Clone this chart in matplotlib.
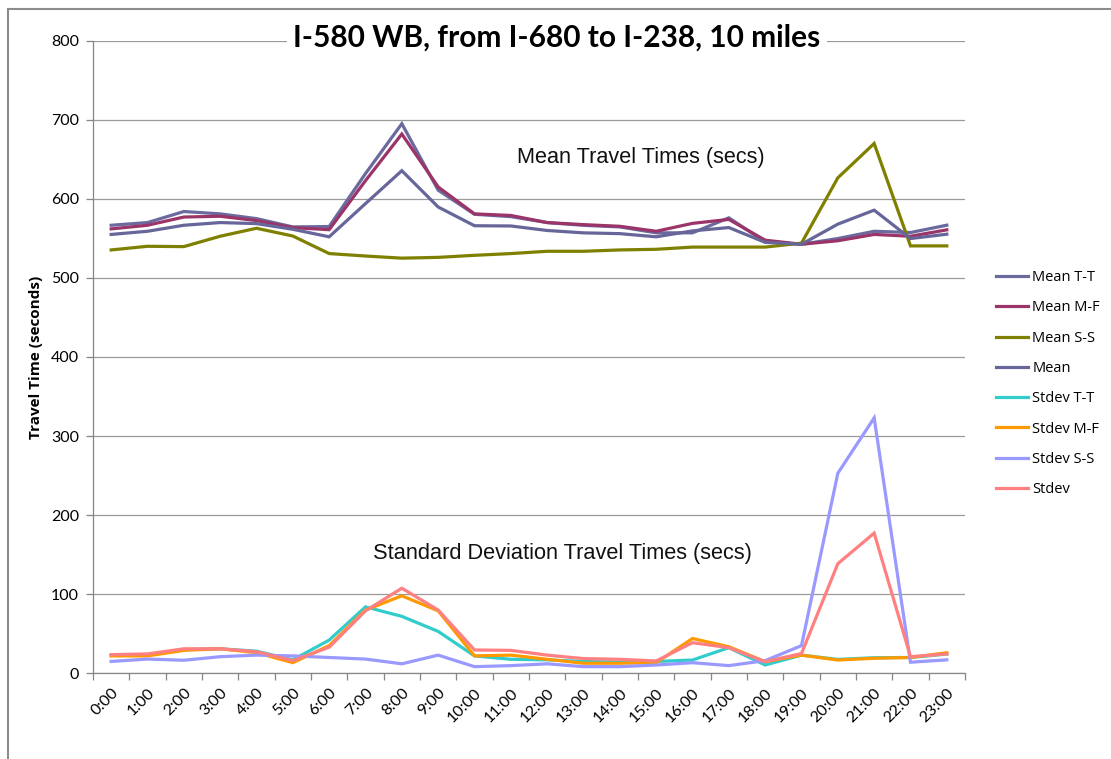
import matplotlib
matplotlib.use("Agg")
import matplotlib.pyplot as plt
from matplotlib.lines import Line2D
import numpy as np

hours = ["0:00", "1:00", "2:00", "3:00", "4:00", "5:00", "6:00", "7:00", "8:00", "9:00",
         "10:00", "11:00", "12:00", "13:00", "14:00", "15:00", "16:00", "17:00", "18:00",
         "19:00", "20:00", "21:00", "22:00", "23:00"]

mean_tt = [566.6, 570, 584, 581, 575, 564.5, 565, 632, 695, 611, 580.5, 577.5, 570, 566.5,
           564.5, 557, 557, 576, 545.6, 542.6, 549.8, 559, 557.4, 566.7]
mean_mf = [562, 566.6, 577, 578, 572.5, 563.6, 561, 623, 682, 615, 581, 579, 570, 567.4,
           565.3, 559, 569, 574, 547.7, 542.6, 547, 555, 552.7, 560.8]
mean_ss = [535.4, 540, 539.6, 552.7, 562.8, 553, 530.8, 527.7, 525, 526, 528.6, 530.8, 533.7,
           533.7, 535.4, 536.2, 539, 539, 539, 544, 626.6, 670, 540.5, 540.5]
mean_all = [555, 559, 566.6, 570, 568.7, 561.5, 552, 594, 635.6, 589.7, 566, 565.7, 560, 557,
            556, 552, 559.5, 563.7, 545, 542.6, 568, 585.7, 549.8, 555.3]
std_tt = [23, 23, 30, 31, 28, 17, 42, 84, 72, 53, 22, 17.7, 17, 15, 14, 15, 16.8, 32.4, 10.5,
          23, 17.6, 19.7, 20, 24.4]
std_mf = [22, 22, 29, 31, 26, 13.5, 35, 80, 98, 79, 22, 23, 17.7, 12.7, 12.7, 13.5, 44, 33.6,
          14.7, 23, 16.8, 19, 20, 26]
std_ss = [15, 18, 16.5, 21, 23, 22, 20, 18, 12, 23, 8.4, 9.7, 12, 8.4, 8.4, 10.5, 13.4, 9.7,
          16, 35, 253, 323, 14, 17]
std_all = [23.6, 24.5, 31, 31, 27.4, 16, 33, 79, 107.6, 80, 29.5, 29, 23, 18.6, 17.7, 15.6,
           38.7, 32.4, 14.7, 25, 138.6, 177.3, 21, 24.4]

series_labels = ["Mean T-T", "Mean M-F", "Mean S-S", "Mean",
                 "Stdev T-T", "Stdev M-F", "Stdev S-S", "Stdev"]
series = [mean_tt, mean_mf, mean_ss, mean_all, std_tt, std_mf, std_ss, std_all]
colors = ["#6A6A9F", "#9B3468", "#808000", "#66669A",
          "#33CCCC", "#FF9900", "#9999FF", "#FF8080"]

W, H = 1111, 759
fig = plt.figure(figsize=(W / 100, H / 100), dpi=100)
ax = fig.add_axes([93 / W, 1 - 673.3 / H, (965 - 93) / W, (673.3 - 40.7) / H])

x = np.arange(len(hours))
handles = []
for vals, lab, col in zip(series, series_labels, colors):
    ln, = ax.plot(x, vals, color=col, lw=2.3, label=lab, solid_joinstyle="miter", zorder=3)
    handles.append(ln)

ax.set_xlim(-0.5, len(hours) - 0.5)
ax.set_ylim(0, 800)
ax.set_yticks(np.arange(0, 801, 100))
ax.yaxis.grid(True, color="#9a9a9a", lw=0.9)
ax.set_axisbelow(True)

ax.set_xticks(x)
ax.set_xticklabels(hours, rotation=45, ha="right", va="top", rotation_mode="anchor",
                   fontsize=11.5, family="Lato")
ax.set_xticks(np.arange(-0.5, len(hours), 1), minor=True)
ax.tick_params(axis="x", which="major", length=0, pad=9)
ax.tick_params(axis="x", which="minor", length=5, width=0.9, color="#868686", direction="out")
ax.tick_params(axis="y", length=5, width=0.9, color="#868686", direction="out", pad=5,
               labelsize=11.5)
for lab in ax.get_yticklabels():
    lab.set_family("Lato")

for s in ["top", "right"]:
    ax.spines[s].set_visible(False)
for s in ["left", "bottom"]:
    ax.spines[s].set_color("#868686")
    ax.spines[s].set_linewidth(0.9)

ax.text(14.58, 652, "Mean Travel Times (secs)", ha="center", va="center",
        fontsize=15.6, family="Liberation Sans", color="#111111")
ax.text(12.41, 152, "Standard Deviation Travel Times (secs)", ha="center", va="center",
        fontsize=15.7, family="Liberation Sans", color="#111111")

fig.text(557 / W, 1 - 38 / H, "I-580 WB, from I-680 to I-238, 10 miles",
         ha="center", va="center", fontsize=21.5, fontweight="bold", family="Lato",
         bbox=dict(facecolor="white", edgecolor="none", pad=5), zorder=5)

fig.text(36 / W, 1 - 357 / H, "Travel Time (seconds)", rotation=90, ha="center", va="center",
         fontsize=11, fontweight="bold", family="Open Sans")

leg = fig.legend(handles=handles, loc="upper left", bbox_to_anchor=(996 / W, 1 - 270 / H),
                 frameon=False, handlelength=2.2, handletextpad=0.3,
                 labelspacing=1.05, borderaxespad=0, borderpad=0,
                 prop={"family": "Open Sans", "size": 10.5})

# chart area border
fig.add_artist(Line2D([7.5 / W, 7.5 / W], [0, 1 - 9 / H], color="#8c8c8c", lw=1.5))
fig.add_artist(Line2D([7.5 / W, 1], [1 - 9 / H, 1 - 9 / H], color="#8c8c8c", lw=1.5))

fig.savefig("out.png", dpi=100)
